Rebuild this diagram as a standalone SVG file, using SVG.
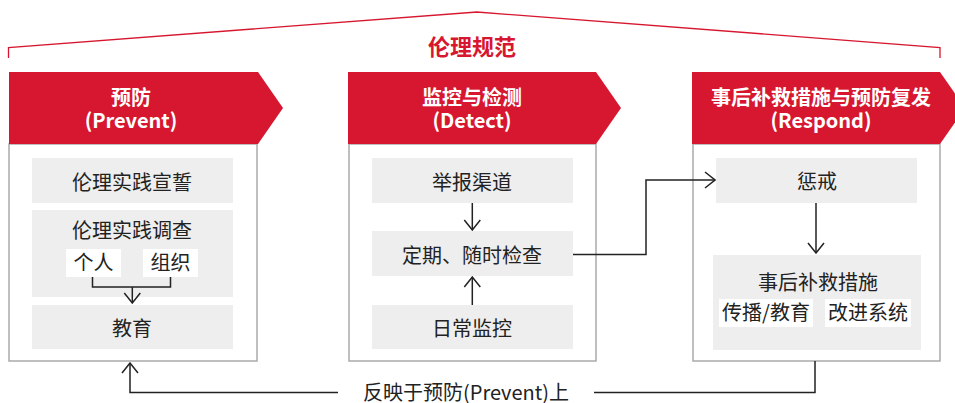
<svg xmlns="http://www.w3.org/2000/svg" width="955" height="403" viewBox="0 0 955 403">
<style>
text{font-family:"Noto Sans CJK SC","Noto Sans",sans-serif;}
.hdr{fill:#d7172f;}
.ht{fill:#fff;font-size:20px;font-weight:bold;text-anchor:middle;}
.body{fill:#fff;stroke:#aaaaaa;stroke-width:1.5;}
.ib{fill:#eeeeee;}
.wb{fill:#fff;}
.t{fill:#222;font-size:20px;text-anchor:middle;}
.ln{fill:none;stroke:#222;stroke-width:1.5;}
</style>
<defs>
<marker id="arr" markerWidth="12" markerHeight="18" refX="11" refY="9" orient="auto" markerUnits="userSpaceOnUse">
<path d="M1,1 L11,9 L1,17" fill="none" stroke="#222" stroke-width="1.5"/>
</marker>
</defs>
<g id="ethics">
<polyline points="8.5,58 8.5,47.5 477,12 940,47.5 940,58" fill="none" stroke="#d7172f" stroke-width="1.3"/>
<text x="472" y="55" style="fill:#d7172f;font-size:22px;font-weight:bold;text-anchor:middle;">伦理规范</text>
</g>
<g id="prevent">
<rect class="body" x="9" y="144" width="248" height="217"/>
<polygon class="hdr" points="9,72 258,72 283,108 258,144 9,144"/>
<text class="ht" x="131" y="105">预防</text>
<text class="ht" x="131" y="128">(Prevent)</text>
<rect class="ib" x="32" y="158" width="201" height="45"/>
<text class="t" x="132" y="190">伦理实践宣誓</text>
<rect class="ib" x="32" y="210" width="201" height="87"/>
<text class="t" x="132" y="238">伦理实践调查</text>
<rect class="wb" x="66" y="249" width="55" height="28"/>
<text class="t" x="93.5" y="270">个人</text>
<rect class="wb" x="143" y="249" width="55" height="28"/>
<text class="t" x="170.5" y="270">组织</text>
<rect class="ib" x="32" y="305" width="201" height="44"/>
<text class="t" x="132" y="336">教育</text>
</g>
<g id="detect">
<rect class="body" x="349" y="144" width="247" height="217"/>
<polygon class="hdr" points="348,72 596,72 621,108 596,144 348,144"/>
<text class="ht" x="472" y="105">监控与检测</text>
<text class="ht" x="472" y="128">(Detect)</text>
<rect class="ib" x="372" y="158" width="201" height="45"/>
<text class="t" x="472" y="190">举报渠道</text>
<rect class="ib" x="372" y="231" width="201" height="45"/>
<text class="t" x="472" y="263">定期、随时检查</text>
<rect class="ib" x="372" y="305" width="201" height="44"/>
<text class="t" x="472" y="336">日常监控</text>
</g>
<g id="respond">
<rect class="body" x="693" y="144" width="247" height="217"/>
<polygon class="hdr" points="692,72 940,72 965,108 940,144 692,144"/>
<text class="ht" x="821" y="105">事后补救措施与预防复发</text>
<text class="ht" x="821" y="128">(Respond)</text>
<rect class="ib" x="716" y="158" width="201" height="45"/>
<text class="t" x="817" y="189">惩戒</text>
<rect class="ib" x="713" y="255" width="208" height="95"/>
<text class="t" x="818" y="290">事后补救措施</text>
<rect class="wb" x="719" y="299" width="94" height="28"/>
<text class="t" x="766" y="320">传播/教育</text>
<rect class="wb" x="825" y="299" width="86" height="28"/>
<text class="t" x="868" y="320">改进系统</text>
</g>
<g id="connectors">
<polyline class="ln" points="92.5,277 92.5,287 170.5,287 170.5,277"/>
<line class="ln" x1="132.3" y1="287" x2="132.3" y2="303" marker-end="url(#arr)"/>
<line class="ln" x1="472.3" y1="203" x2="472.3" y2="230" marker-end="url(#arr)"/>
<line class="ln" x1="472.3" y1="305" x2="472.3" y2="277" marker-end="url(#arr)"/>
<polyline class="ln" points="573,254.5 646,254.5 646,180 715,180" marker-end="url(#arr)"/>
<line class="ln" x1="816" y1="203" x2="816" y2="253" marker-end="url(#arr)"/>
<polyline class="ln" points="815,361 815,392.5 594,392.5"/>
<polyline class="ln" points="338,392.5 130,392.5 130,363" marker-end="url(#arr)"/>
<text class="t" x="466" y="400">反映于预防(Prevent)上</text>
</g>
</svg>
